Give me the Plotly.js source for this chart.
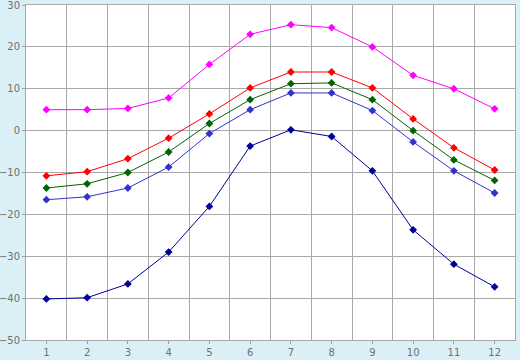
<!DOCTYPE html>
<html>
<head>
<meta charset="utf-8">
<script src="https://cdn.plot.ly/plotly-3.0.1.min.js"></script>
<style>html,body{margin:0;padding:0;background:#DAF0F6;}#chart{width:520px;height:360px;}</style>
</head>
<body>
<div id="chart"></div>
<script>
var months = [1,2,3,4,5,6,7,8,9,10,11,12];
var seriesMagenta = [5.0, 5.0, 5.3, 7.8, 15.8, 23.0, 25.3, 24.6, 20.0, 13.2, 10.0, 5.2];
var seriesRed     = [-10.8, -9.8, -6.7, -1.8, 4.0, 10.2, 14.0, 14.0, 10.2, 2.8, -4.1, -9.4];
var seriesGreen   = [-13.7, -12.7, -10.0, -5.1, 1.7, 7.4, 11.2, 11.4, 7.4, 0.0, -7.0, -11.9];
var seriesBlue    = [-16.5, -15.8, -13.7, -8.7, -0.7, 5.0, 9.0, 9.0, 4.8, -2.7, -9.6, -14.9];
var seriesNavy    = [-40.2, -39.9, -36.6, -29.0, -18.1, -3.7, 0.2, -1.4, -9.6, -23.7, -31.9, -37.3];

function tr(y, color) {
  return {x: months, y: y, type: 'scatter', mode: 'lines+markers',
    line: {color: color, width: 1},
    marker: {color: color, size: 6, symbol: 'diamond'},
    hoverinfo: 'skip'};
}
var data = [
  tr(seriesMagenta, '#FF00FF'),
  tr(seriesRed, '#FF0000'),
  tr(seriesGreen, '#006400'),
  tr(seriesBlue, '#3333CC'),
  tr(seriesNavy, '#000099')
];
var axisFont = {family: 'DejaVu Sans', size: 10, color: '#707070'};
var layout = {
  width: 520, height: 360,
  paper_bgcolor: '#DAF0F6', plot_bgcolor: '#FFFFFF',
  margin: {l: 26, r: 5, t: 5, b: 20},
  showlegend: false,
  xaxis: {range: [0.5, 12.5], tickvals: months, ticktext: months.map(String),
    showgrid: false, zeroline: false, ticks: 'outside', ticklen: 3, tickcolor: '#A0A0A0',
    showline: true, linecolor: '#A9A9A9', mirror: true, tickfont: axisFont,
    ticklabeloverflow: 'allow',
    minor: {tick0: 0.5, dtick: 1, showgrid: true, gridcolor: '#A9A9A9', gridwidth: 1, ticks: ''}},
  yaxis: {range: [-50, 30], dtick: 10, tick0: 0, showgrid: true, gridcolor: '#A9A9A9',
    zeroline: false, ticks: 'outside', ticklen: 3, tickcolor: '#A0A0A0',
    showline: true, linecolor: '#A9A9A9', mirror: true, tickfont: axisFont,
    ticklabeloverflow: 'allow'}
};
Plotly.newPlot('chart', data, layout, {staticPlot: true});
</script>
</body>
</html>
